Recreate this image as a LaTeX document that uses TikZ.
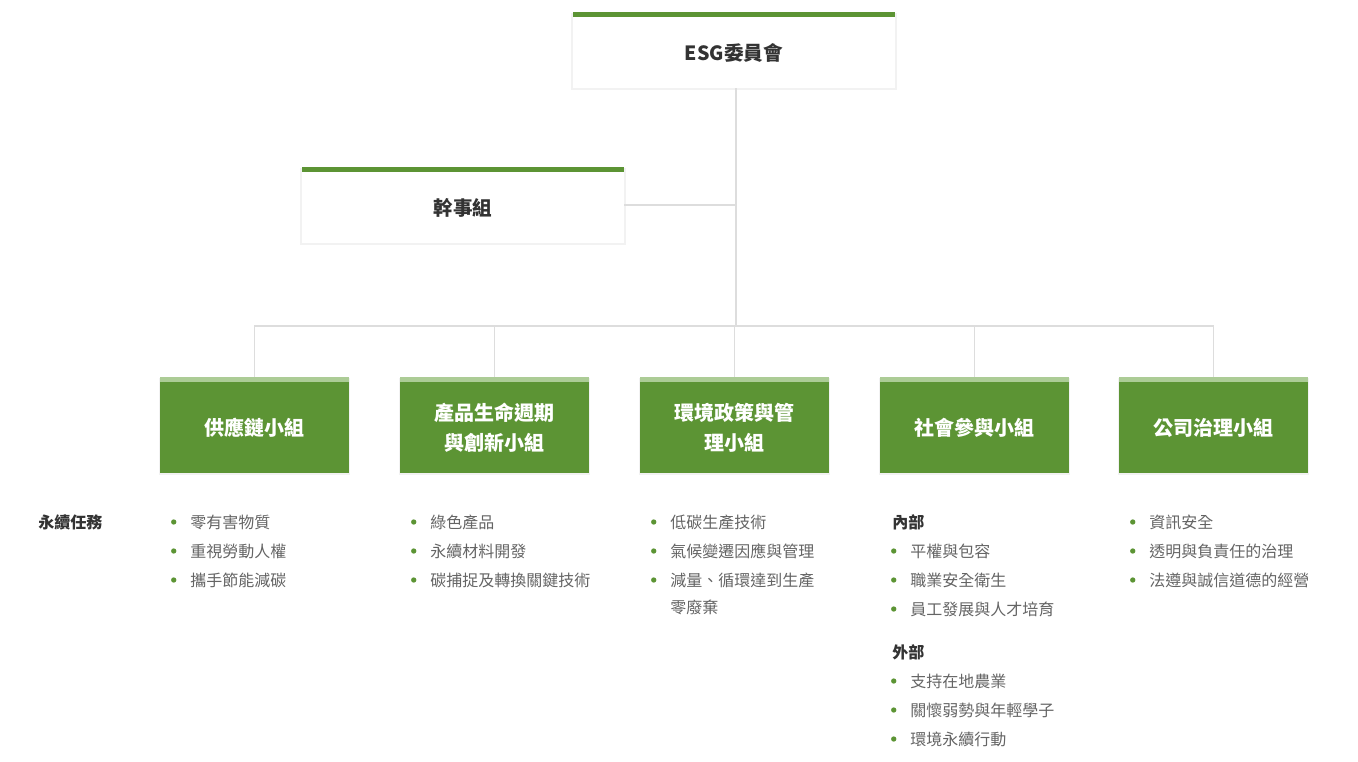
\documentclass[tikz,border=0pt]{standalone}
\usepackage{fontspec}
\setmainfont{Noto Sans CJK TC}
\usetikzlibrary{shadows}

\definecolor{esggreen}{RGB}{92,148,52}
\definecolor{esglight}{RGB}{172,204,150}
\definecolor{linegray}{RGB}{221,221,221}
\definecolor{titlegray}{RGB}{51,51,51}
\definecolor{textgray}{RGB}{100,100,100}

\begin{document}
\begin{tikzpicture}[
    x=0.75pt, y=-0.75pt,
    conn/.style={draw=linegray, line width=0.8pt},
    softshadow/.style={drop shadow={shadow xshift=0pt, shadow yshift=-1pt,
      shadow scale=1.012, opacity=0.1}},
    headbox/.style={fill=white, minimum width=241.5pt, minimum height=57pt,
      inner sep=0pt, softshadow,
      path picture={\fill[esggreen] (path picture bounding box.north west)
        rectangle ([yshift=-3.8pt]path picture bounding box.north east);}},
    groupbox/.style={fill=esggreen, minimum width=141.75pt, minimum height=72pt,
      inner sep=0pt, softshadow,
      path picture={\fill[esglight] (path picture bounding box.north west)
        rectangle ([yshift=-3.8pt]path picture bounding box.north east);}},
    headtext/.style={yshift=-2.25pt, inner sep=0pt, text=titlegray,
      font=\fontsize{14.7}{17}\selectfont\bfseries},
    grouptext/.style={yshift=-2.25pt, inner sep=0pt, text=white, align=center,
      font=\fontsize{15}{22.5}\selectfont\bfseries},
    item/.style={anchor=west, inner sep=0pt, text=textgray,
      font=\fontsize{12}{15}\selectfont,
      label={[bulletdot]left:}},
    bulletdot/.style={circle, fill=esggreen, inner sep=0pt, minimum size=4pt,
      label distance=10pt},
    plain/.style={anchor=west, inner sep=0pt, text=textgray,
      font=\fontsize{12}{15}\selectfont},
    sub/.style={anchor=west, inner sep=0pt, text=titlegray,
      font=\fontsize{12}{15}\selectfont\bfseries}
  ]
  \useasboundingbox (0,0) rectangle (1358,762);

  % boxes
  \node[headbox, label={[headtext]center:ESG委員會}] (esg) at (734,50) {};
  \node[headbox, label={[headtext]center:幹事組}] (gan) at (463,205) {};
  \node[groupbox, label={[grouptext]center:供應鏈小組}] (g1) at (254.5,425) {};
  \node[groupbox, label={[grouptext]center:產品生命週期\\與創新小組}] (g2) at (494.5,425) {};
  \node[groupbox, label={[grouptext]center:環境政策與管\\理小組}] (g3) at (734.5,425) {};
  \node[groupbox, label={[grouptext]center:社會參與小組}] (g4) at (974.5,425) {};
  \node[groupbox, label={[grouptext]center:公司治理小組}] (g5) at (1213.5,425) {};

  % connectors
  \coordinate (hub) at (736,326);
  \draw[conn] (esg.south -| hub) -- (hub);
  \draw[conn] (gan.east) -- (gan.east -| hub);
  \draw[conn] (g1.north) |- (hub) -| (g5.north);
  \foreach \g in {g2,g3,g4}
    \draw[conn] (\g.north) -- (\g.north |- hub);

  % tasks
  \node[sub] (task) at (38,522) {永續任務};
  \foreach \txt [count=\i] in {零有害物質,重視勞動人權,攜手節能減碳}
    \node[item] (a\i) at (190,493+29*\i) {\txt};
  \foreach \txt [count=\i] in {綠色產品,永續材料開發,碳捕捉及轉換關鍵技術}
    \node[item] (b\i) at (430,493+29*\i) {\txt};
  \foreach \txt [count=\i] in {低碳生產技術,氣候變遷因應與管理,減量、循環達到生產}
    \node[item] (c\i) at (670,493+29*\i) {\txt};
  \node[plain] (c4) at (670,607) {零廢棄};
  \node[sub] (inner) at (892,522) {內部};
  \foreach \txt [count=\i] in {平權與包容,職業安全衛生,員工發展與人才培育}
    \node[item] (d\i) at (910,522+29*\i) {\txt};
  \node[sub] (outer) at (892,652) {外部};
  \foreach \txt [count=\i] in {支持在地農業,關懷弱勢與年輕學子,環境永續行動}
    \node[item] (e\i) at (910,652+29*\i) {\txt};
  \foreach \txt [count=\i] in {資訊安全,透明與負責任的治理,法遵與誠信道德的經營}
    \node[item] (f\i) at (1149,493+29*\i) {\txt};
\end{tikzpicture}
\end{document}
